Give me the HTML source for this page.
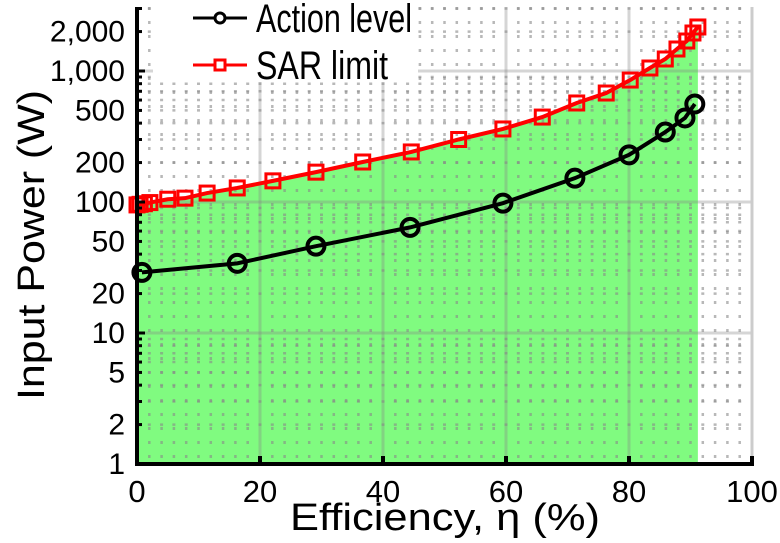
<!DOCTYPE html>
<html><head><meta charset="utf-8"><style>
body{margin:0;background:#fff;}
svg{display:block;font-family:"Liberation Sans",sans-serif;}
</style></head><body>
<svg id="chart" width="780" height="543"></svg>
<script>
const actionX=[0.8,16.3,29.1,44.4,59.5,71.2,80.0,85.9,89.1,90.7];
const actionY=[29,34,46,64,98,152,229,342,438,560];
const sarX=[0,0.5,1.2,2.1,5.0,7.8,11.4,16.3,22.1,29.1,36.7,44.6,52.3,59.5,65.9,71.5,76.3,80.2,83.4,85.9,87.8,89.4,90.4,91.2];
const sarY=[95,96,97,99,105,107,117,128,145,169,202,241,300,361,445,570,679,853,1054,1235,1472,1694,1950,2168];
const xTicks=[0,20,40,60,80,100];
const yTicks=[1,2,5,10,20,50,100,200,500,1000,2000];
const yTickLabels=["1","2","5","10","20","50","100","200","500","1,000","2,000"];

const NS="http://www.w3.org/2000/svg";
const svg=document.getElementById('chart');
const X0=137,X1=752,Y0=464,DEC=131,YTOP=7;
const sx=v=>X0+(v/100)*(X1-X0);
const sy=v=>Y0-Math.log10(v)*DEC;
function mk(tag,attrs,parent){const e=document.createElementNS(NS,tag);for(const k in attrs)e.setAttribute(k,attrs[k]);(parent||svg).appendChild(e);return e;}

let d=`M${sx(sarX[0])},${Y0}`;
sarX.forEach((x,i)=>{d+=` L${sx(x)},${sy(sarY[i])}`;});
d+=` L${sx(sarX[sarX.length-1])},${Y0} Z`;
const fill=mk('path',{d:d,fill:'#80fb80'});



const grid=mk('g',{});


const step=(X1-X0)/50;
for(let v=2;v<100;v+=2){ if(v%20===0) continue;
  mk('line',{x1:sx(v),x2:sx(v),y1:YTOP,y2:Y0,stroke:'#888','stroke-width':2.5,'stroke-dasharray':'3,11','stroke-opacity':0.6},grid);}
for(let dec=0;dec<4;dec++)for(let m=2;m<=9;m++){const v=m*Math.pow(10,dec);if(sy(v)<YTOP)continue;
  mk('line',{x1:X0+step-1.5,x2:X1,y1:sy(v),y2:sy(v),stroke:'#888','stroke-width':2.5,'stroke-dasharray':`3,${step-3}`,'stroke-opacity':0.6},grid);}
xTicks.forEach(v=>{if(v>0)mk('line',{x1:sx(v),x2:sx(v),y1:YTOP,y2:Y0,stroke:'#888','stroke-opacity':0.35,'stroke-width':3},grid);});
[10,100,1000].forEach(v=>mk('line',{x1:X0,x2:X1,y1:sy(v),y2:sy(v),stroke:'#888','stroke-opacity':0.35,'stroke-width':3},grid));

const leg=mk('g',{});


mk('rect',{x:153,y:0,width:265,height:82,fill:'#fff'},leg);

const sar=mk('g',{});


mk('polyline',{points:sarX.map((x,i)=>`${sx(x)},${sy(sarY[i])}`).join(' '),fill:'none',stroke:'#f00','stroke-width':4},sar);
sarX.forEach((x,i)=>{const r=mk('rect',{x:sx(x)-7,y:sy(sarY[i])-7,width:14,height:14,fill:'none',stroke:'#f00','stroke-width':3},sar);
  
  });

const act=mk('g',{});


mk('polyline',{points:actionX.map((x,i)=>`${sx(x)},${sy(actionY[i])}`).join(' '),fill:'none',stroke:'#000','stroke-width':4},act);
actionX.forEach((x,i)=>{const c=mk('circle',{cx:sx(x),cy:sy(actionY[i]),r:8.5,fill:'none',stroke:'#000','stroke-width':4},act);
  
  });

const ax=mk('g',{});


mk('line',{x1:X1,x2:X1,y1:YTOP,y2:Y0,stroke:'#ccc','stroke-width':3},ax);
mk('line',{x1:X0,x2:X0,y1:YTOP,y2:Y0+2,stroke:'#000','stroke-width':4},ax);
mk('line',{x1:X0-2,x2:X1+2,y1:Y0,y2:Y0,stroke:'#000','stroke-width':4},ax);
xTicks.forEach(v=>{mk('line',{x1:sx(v),x2:sx(v),y1:Y0,y2:Y0-8,stroke:'#000','stroke-width':4},ax);
  const t=mk('text',{x:sx(v),y:Y0+38,'font-size':31,'text-anchor':'middle'},ax);t.textContent=v;
  
  });
for(let dec=0;dec<4;dec++)for(let m=1;m<=9;m++){const v=m*Math.pow(10,dec);if(sy(v)<YTOP)continue;
  mk('line',{x1:X0,x2:X0+(m===1?8:5),y1:sy(v),y2:sy(v),stroke:'#000','stroke-width':3},ax);}
yTicks.forEach((v,i)=>{const t=mk('text',{x:125,y:sy(v)+10,'font-size':30,'text-anchor':'end'},ax);t.textContent=yTickLabels[i];
  
  });
</script>
<svg width="780" height="543" style="position:absolute;left:0;top:0">
<g font-family="Liberation Sans, sans-serif">
<line x1="193" y1="18" x2="247" y2="18" stroke="#000" stroke-width="3"/>
<circle cx="220" cy="18" r="5" fill="#fff" stroke="#000" stroke-width="3"/>
<text x="256" y="32" font-size="40" textLength="156" lengthAdjust="spacingAndGlyphs">Action level</text>
<line x1="193" y1="65" x2="247" y2="65" stroke="#f00" stroke-width="3"/>
<rect x="215" y="60" width="10" height="10" fill="#fff" stroke="#f00" stroke-width="3"/>
<text x="256" y="79" font-size="40" textLength="132" lengthAdjust="spacingAndGlyphs">SAR limit</text>
<text x="290" y="530" font-size="38" textLength="310" lengthAdjust="spacingAndGlyphs">Efficiency, η (%)</text>
<text transform="translate(44,400) rotate(-90)" font-size="38" textLength="310" lengthAdjust="spacingAndGlyphs">Input Power (W)</text>
</g></svg>
</body></html>
